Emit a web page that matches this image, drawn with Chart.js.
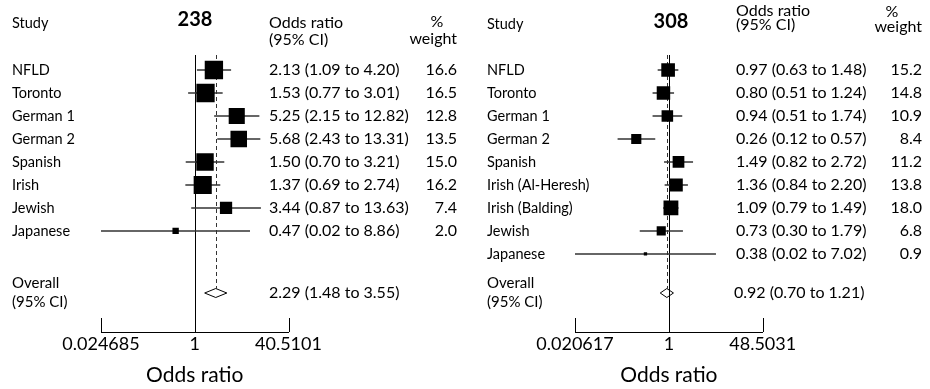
<!DOCTYPE html>
<html>
<head>
<meta charset="utf-8">
<script src="https://cdn.jsdelivr.net/npm/chart.js@4.4.1/dist/chart.umd.min.js"></script>
<style>
  html, body { margin: 0; padding: 0; background: #fff; }
  #wrap { position: relative; width: 930px; height: 389px; }
  canvas { position: absolute; top: 0; }
</style>
</head>
<body>
<div id="wrap">
  <canvas id="c238" width="465" height="389" style="left:0"></canvas>
  <canvas id="c308" width="465" height="389" style="left:465px"></canvas>
</div>
<script>
// 238 panel
const studies238 = ["NFLD", "Toronto", "German 1", "German 2", "Spanish", "Irish", "Jewish", "Japanese"];
const or238 = [2.13, 1.53, 5.25, 5.68, 1.50, 1.37, 3.44, 0.47];
const lo238 = [1.09, 0.77, 2.15, 2.43, 0.70, 0.69, 0.87, 0.02];
const hi238 = [4.20, 3.01, 12.82, 13.31, 3.21, 2.74, 13.63, 8.86];
const weight238 = [16.6, 16.5, 12.8, 13.5, 15.0, 16.2, 7.4, 2.0];
const overall238 = [2.29, 1.48, 3.55];
const ticks238 = [0.024685, 1, 40.5101];
const tickLabels238 = ["0.024685", "1", "40.5101"];

// 308 panel
const studies308 = ["NFLD", "Toronto", "German 1", "German 2", "Spanish", "Irish (Al-Heresh)", "Irish (Balding)", "Jewish", "Japanese"];
const or308 = [0.97, 0.80, 0.94, 0.26, 1.49, 1.36, 1.09, 0.73, 0.38];
const lo308 = [0.63, 0.51, 0.51, 0.12, 0.82, 0.84, 0.79, 0.30, 0.02];
const hi308 = [1.48, 1.24, 1.74, 0.57, 2.72, 2.20, 1.49, 1.79, 7.02];
const weight308 = [15.2, 14.8, 10.9, 8.4, 11.2, 13.8, 18.0, 6.8, 0.9];
const overall308 = [0.92, 0.70, 1.21];
const ticks308 = [0.020617, 1, 48.5031];
const tickLabels308 = ["0.020617", "1", "48.5031"];

const FONT = "Lato, 'Open Sans', sans-serif";
const fmt = (o, l, h) => o.toFixed(2) + " (" + l.toFixed(2) + " to " + h.toFixed(2) + ")";

const forestPlugin = {
  id: "forest",
  beforeDatasetsDraw(chart) {
    const { ctx, chartArea: a, scales: { x, y } } = chart;
    const f = chart.options.plugins.forest;
    ctx.save();
    // line of no effect
    const x1 = Math.round(x.getPixelForValue(1)) + 0.5;
    ctx.strokeStyle = "#000";
    ctx.lineWidth = 1;
    ctx.beginPath(); ctx.moveTo(x1, a.top); ctx.lineTo(x1, a.bottom); ctx.stroke();
    // pooled estimate, dashed
    const xo = Math.round(x.getPixelForValue(f.overall[0])) + 0.5;
    const yo = y.getPixelForValue(f.overallRow);
    ctx.strokeStyle = "#333";
    ctx.setLineDash([4, 3]);
    ctx.beginPath(); ctx.moveTo(xo, a.top); ctx.lineTo(xo, yo - f.diamondH); ctx.stroke();
    ctx.setLineDash([]);
    // end ticks point up
    ctx.strokeStyle = "#000";
    [x.min, x.max].forEach(v => {
      const px = Math.round(x.getPixelForValue(v)) + 0.5;
      ctx.beginPath(); ctx.moveTo(px, a.bottom); ctx.lineTo(px, a.bottom - 14); ctx.stroke();
    });
    ctx.restore();
  },
  afterDatasetsDraw(chart) {
    const { ctx, scales: { x, y } } = chart;
    const f = chart.options.plugins.forest;
    const yo = y.getPixelForValue(f.overallRow);
    const xl = x.getPixelForValue(f.overall[1]);
    const xc = x.getPixelForValue(f.overall[0]);
    const xr = x.getPixelForValue(f.overall[2]);
    ctx.save();
    ctx.strokeStyle = "#000";
    ctx.lineWidth = 1;
    ctx.beginPath();
    ctx.moveTo(xl, yo); ctx.lineTo(xc, yo - f.diamondH);
    ctx.lineTo(xr, yo); ctx.lineTo(xc, yo + f.diamondH);
    ctx.closePath(); ctx.stroke();
    ctx.restore();
  },
  afterDraw(chart) {
    const { ctx, scales: { y } } = chart;
    const f = chart.options.plugins.forest;
    const L = f.layout;
    ctx.save();
    ctx.fillStyle = "#000";
    ctx.textBaseline = "middle";
    // header
    ctx.font = "14.5px " + FONT;
    ctx.textAlign = "left";
    ctx.fillText("Study", L.nameX, L.studyY);
    ctx.font = "bold 20px " + FONT;
    ctx.textAlign = "center";
    ctx.fillText(f.title, L.titleX, L.titleY);
    ctx.font = "16px " + FONT;
    ctx.textAlign = "left";
    ctx.fillText("Odds ratio", L.orX, L.hdrY1);
    ctx.fillText("(95% CI)", L.orX, L.hdrY2);
    ctx.textAlign = "center";
    ctx.fillText("%", L.pctX, L.pctY1);
    ctx.textAlign = "right";
    ctx.fillText("weight", L.wX, L.pctY2);
    // rows
    f.studies.forEach((s, i) => {
      const py = y.getPixelForValue(i);
      ctx.font = "14.5px " + FONT;
      ctx.textAlign = "left";
      ctx.fillText(s, L.nameX, py);
      ctx.font = "16px " + FONT;
      ctx.fillText(fmt(f.or[i], f.lo[i], f.hi[i]), L.orX, py);
      ctx.textAlign = "right";
      ctx.fillText(f.weight[i].toFixed(1), L.wX, py);
    });
    // overall
    const yo = y.getPixelForValue(f.overallRow);
    ctx.font = "15px " + FONT;
    ctx.textAlign = "left";
    ctx.fillText("Overall", L.nameX, yo - 9.5);
    ctx.fillText("(95% CI)", L.nameX, yo + 9.5);
    ctx.font = "16px " + FONT;
    ctx.fillText(fmt(f.overall[0], f.overall[1], f.overall[2]), L.overallX, yo);
    ctx.restore();
  }
};

function forestChart(id, d, lay) {
  const rows = d.studies.map((s, i) => i);
  const datasets = [{
    type: "scatter",
    data: d.or.map((v, i) => ({ x: v, y: rows[i] })),
    pointStyle: "rect",
    pointRadius: d.weight.map(w => lay.boxK * Math.sqrt(w) / Math.SQRT2),
    backgroundColor: "#000",
    borderWidth: 0
  }];
  d.studies.forEach((s, i) => {
    datasets.push({
      type: "line",
      data: [{ x: d.lo[i], y: rows[i] }, { x: d.hi[i], y: rows[i] }],
      borderColor: "#333",
      borderWidth: 1.6,
      pointRadius: 0
    });
  });
  return new Chart(document.getElementById(id), {
    type: "scatter",
    data: { datasets: datasets },
    plugins: [forestPlugin],
    options: {
      responsive: false,
      animation: false,
      devicePixelRatio: 1,
      layout: { padding: { left: lay.left, right: lay.right, top: 55, bottom: 0 } },
      plugins: {
        legend: { display: false },
        tooltip: { enabled: false },
        forest: Object.assign({}, d, { layout: lay, overallRow: 9.7, diamondH: 4.5 })
      },
      scales: {
        x: {
          type: "logarithmic",
          min: d.ticks[0],
          max: d.ticks[2],
          afterBuildTicks: s => { s.ticks = d.ticks.map(v => ({ value: v })); },
          afterFit: s => { s.height = 57; },
          ticks: {
            callback: (v, i) => d.tickLabels[i],
            font: { family: FONT, size: 18 },
            color: "#000",
            padding: 1,
            maxRotation: 0,
            autoSkip: false
          },
          grid: { display: false, drawTicks: false },
          border: { display: true, color: "#000", width: 1 },
          title: {
            display: true,
            text: "Odds ratio",
            font: { family: FONT, size: 21 },
            color: "#000",
            padding: { top: 0, bottom: 1 }
          }
        },
        y: {
          type: "linear",
          display: false,
          reverse: true,
          min: -15 / 23,
          max: 9.7 + 39 / 23
        }
      }
    }
  });
}

forestChart("c238",
  { title: "238", studies: studies238, or: or238, lo: lo238, hi: hi238, weight: weight238,
    overall: overall238, ticks: ticks238, tickLabels: tickLabels238 },
  { left: 101, right: 176.5, boxK: 4.5, nameX: 12, studyY: 23, titleX: 195, titleY: 20,
    orX: 269, hdrY1: 23, hdrY2: 40, pctX: 437, pctY1: 22, pctY2: 39, wX: 457, overallX: 269 });

forestChart("c308",
  { title: "308", studies: studies308, or: or308, lo: lo308, hi: hi308, weight: weight308,
    overall: overall308, ticks: ticks308, tickLabels: tickLabels308 },
  { left: 110, right: 167.3, boxK: 3.5, nameX: 22, studyY: 24, titleX: 206, titleY: 22,
    orX: 271, hdrY1: 11, hdrY2: 25, pctX: 427, pctY1: 12, pctY2: 27, wX: 457, overallX: 269 });
</script>
</body>
</html>
